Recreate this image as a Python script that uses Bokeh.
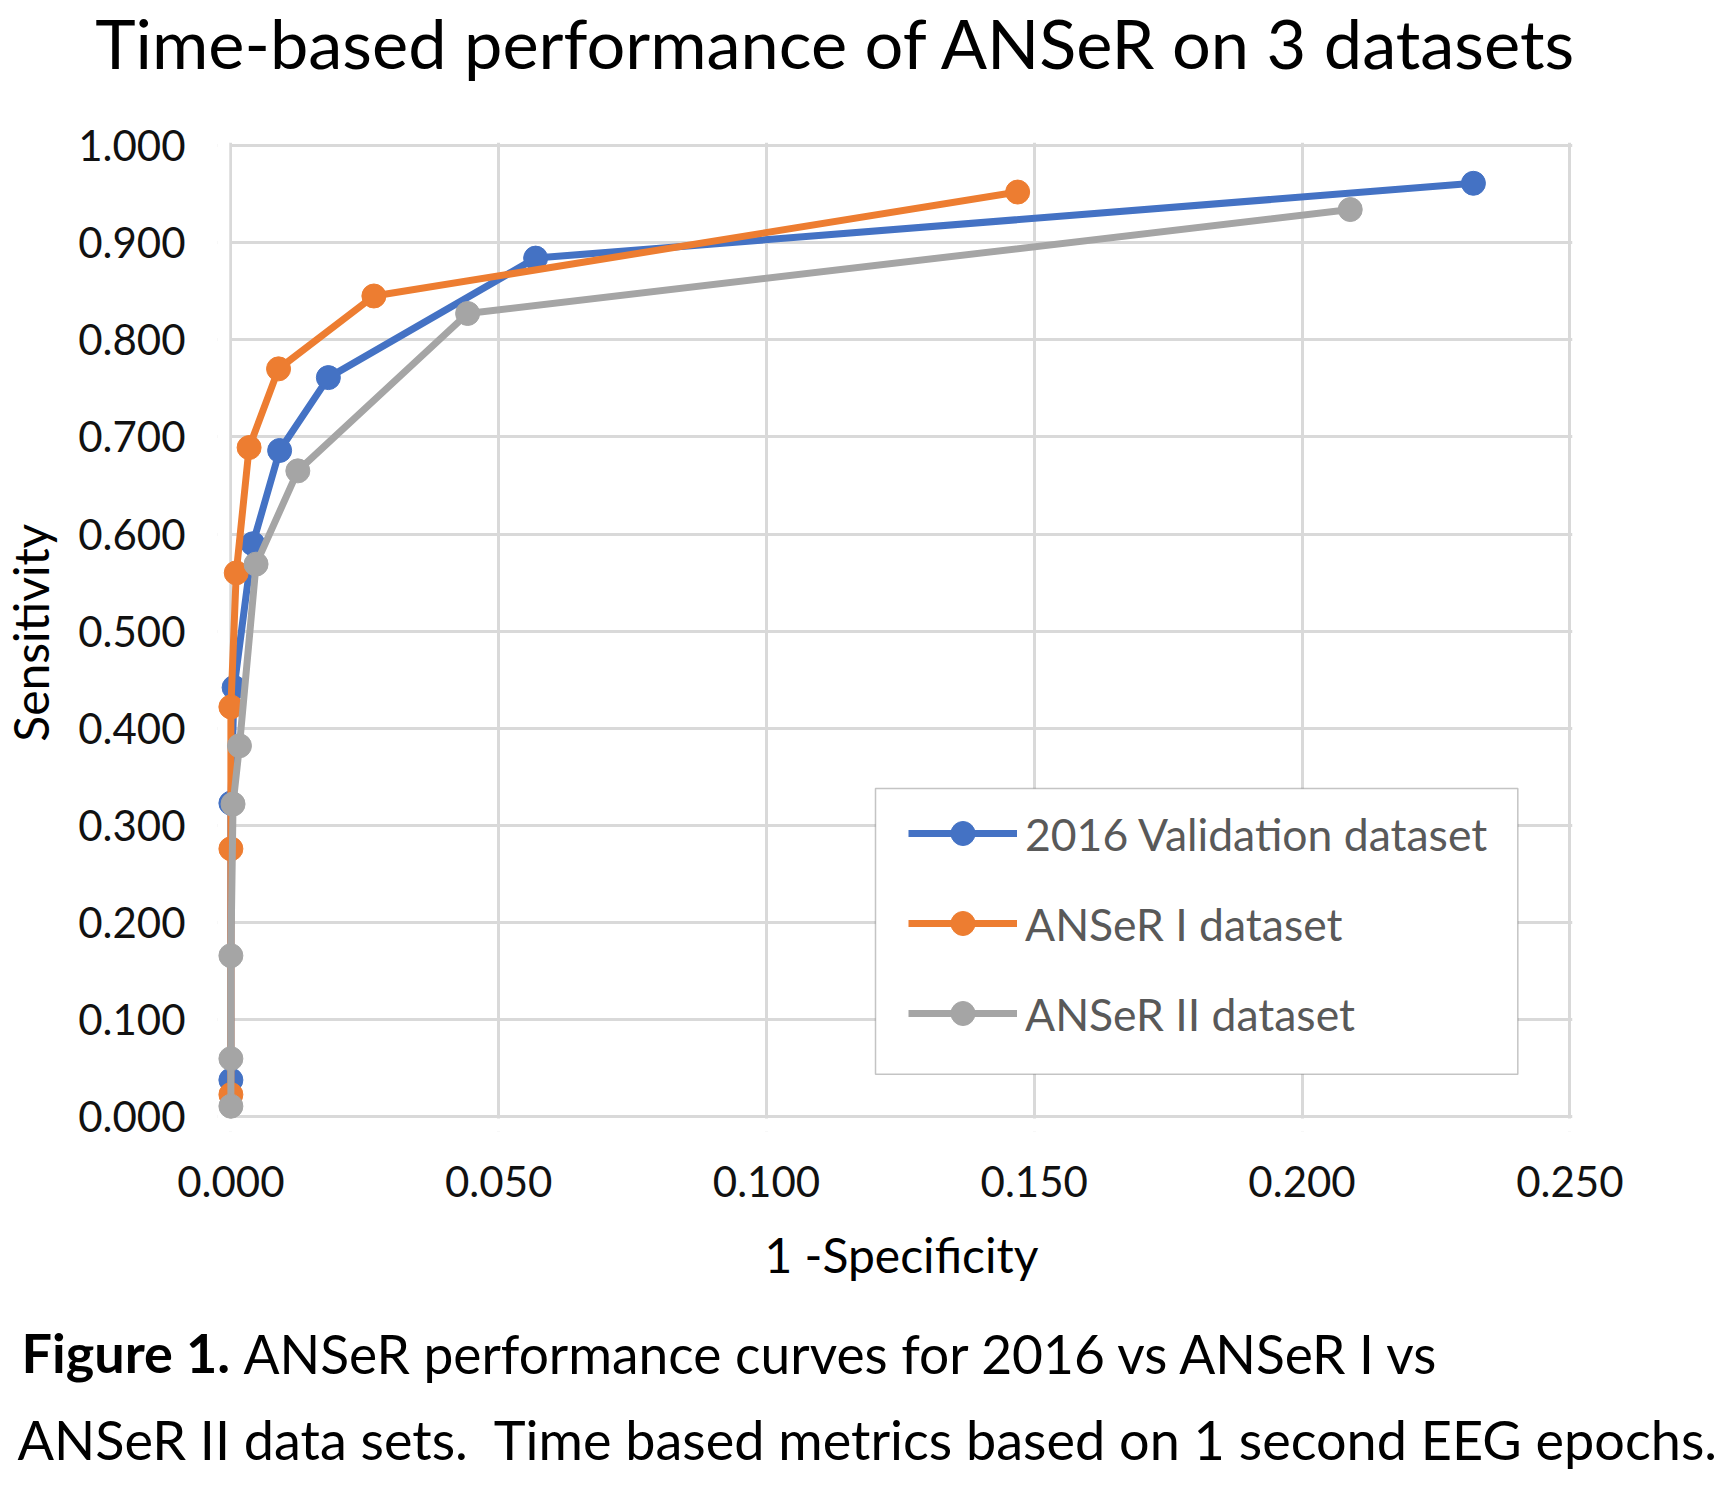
import math
from bokeh.plotting import figure
from bokeh.layouts import column, row
from bokeh.models import (Range1d, FixedTicker, Legend, LegendItem,
                          BoxAnnotation, Label)
from bokeh.embed import file_html
from bokeh.resources import INLINE

# ---------------- data ----------------
series_names = ["2016 Validation dataset", "ANSeR I dataset", "ANSeR II dataset"]

val2016_x = [0.0, 0.0, 0.0006, 0.0041, 0.0091, 0.0182, 0.0569, 0.2320]
val2016_y = [0.038, 0.323, 0.442, 0.590, 0.686, 0.761, 0.884, 0.961]

anser1_x = [0.0, 0.0, 0.0, 0.0010, 0.0034, 0.0089, 0.0267, 0.1469]
anser1_y = [0.023, 0.276, 0.422, 0.560, 0.689, 0.770, 0.845, 0.952]

anser2_x = [0.0, 0.0, 0.0, 0.0004, 0.0016, 0.0047, 0.0125, 0.0442, 0.2090]
anser2_y = [0.011, 0.060, 0.166, 0.322, 0.382, 0.569, 0.665, 0.827, 0.934]

x_ticks = [0.0, 0.05, 0.10, 0.15, 0.20, 0.25]
x_tick_labels = ["0.000", "0.050", "0.100", "0.150", "0.200", "0.250"]
y_ticks = [0.0, 0.1, 0.2, 0.3, 0.4, 0.5, 0.6, 0.7, 0.8, 0.9, 1.0]
y_tick_labels = ["0.000", "0.100", "0.200", "0.300", "0.400", "0.500",
                 "0.600", "0.700", "0.800", "0.900", "1.000"]

title_text = "Time-based performance of ANSeR on 3 datasets"
x_title = "1 -Specificity"
y_title = "Sensitivity"
caption_bold = "Figure 1."
caption_line1 = "ANSeR performance curves for 2016 vs ANSeR I vs"
caption_line2 = "ANSeR II data sets.\u00a0 Time based metrics based on 1 second EEG epochs."

colors = ["#4472C4", "#ED7D31", "#A5A5A5"]
FONT = "Lato"
W = 1724
LEFT_W = 60
MAIN_H = 1100


def text_panel(w, h):
    """A figure whose frame is the whole canvas, in pixel-like units (y downwards)."""
    f = figure(width=w, height=h, x_range=Range1d(0, w), y_range=Range1d(h, 0),
               output_backend="svg", toolbar_location=None,
               x_axis_location=None, y_axis_location=None,
               min_border=0, min_border_left=0, min_border_right=0,
               min_border_top=0, min_border_bottom=0, frame_align=False)
    f.title = None
    f.grid.visible = False
    f.outline_line_color = None
    f.background_fill_color = "white"
    f.border_fill_color = "white"
    return f


# ---------------- title panel ----------------
top = text_panel(W, 120)
top.add_layout(Label(x=836, y=41.5, text=title_text,
                     text_font=FONT, text_font_size="68.5px", text_color="#000000",
                     text_align="center", text_baseline="alphabetic"))

# ---------------- y title panel ----------------
leftp = text_panel(LEFT_W, MAIN_H)
leftp.add_layout(Label(x=29.5, y=512.2, text=y_title, angle=math.pi / 2,
                       text_font=FONT, text_font_size="48px", text_color="#000000",
                       text_align="center", text_baseline="alphabetic"))

# ---------------- main chart ----------------
p = figure(width=W - LEFT_W, height=MAIN_H,
           x_range=Range1d(-0.0025, 0.2505), y_range=Range1d(-0.015, 1.003),
           output_backend="svg", toolbar_location=None,
           min_border_left=217 - LEFT_W, min_border_right=152,
           min_border_top=22, min_border_bottom=89, frame_align=False)
p.title = None
p.outline_line_color = None
p.background_fill_color = "white"
p.border_fill_color = "white"

p.xaxis.ticker = FixedTicker(ticks=x_ticks)
p.yaxis.ticker = FixedTicker(ticks=y_ticks)
p.xaxis.major_label_overrides = dict(zip(x_ticks, x_tick_labels))
p.yaxis.major_label_overrides = dict(zip(y_ticks, y_tick_labels))
for ax in (p.xaxis, p.yaxis):
    ax.axis_line_color = None
    ax.major_tick_line_color = None
    ax.minor_tick_line_color = None
    ax.major_tick_out = 0
    ax.major_label_text_font = FONT
    ax.major_label_text_font_size = "42px"
    ax.major_label_text_color = "#111111"
p.yaxis.major_label_standoff = 32
p.xaxis.major_label_standoff = 34

p.xgrid.grid_line_color = "#D9D9D9"
p.ygrid.grid_line_color = "#D9D9D9"
p.xgrid.grid_line_width = 3
p.ygrid.grid_line_width = 3

# mask grid stubs outside the x=0 / y=0 axes
p.add_layout(BoxAnnotation(right=-0.0003, fill_color="white", fill_alpha=1,
                           line_alpha=0, level="underlay"))
p.add_layout(BoxAnnotation(top=-0.0016, fill_color="white", fill_alpha=1,
                           line_alpha=0, level="underlay"))

items = []
for name, xs, ys, c in zip(series_names,
                           [val2016_x, anser1_x, anser2_x],
                           [val2016_y, anser1_y, anser2_y], colors):
    ln = p.line(xs, ys, line_color=c, line_width=7, line_join="round")
    sc = p.scatter(xs, ys, size=24, fill_color=c, line_color=c)
    items.append(LegendItem(label=name, renderers=[ln, sc]))

# legend frame
p.add_layout(BoxAnnotation(left=0.12036, right=0.24029, top=0.33810, bottom=0.04392,
                           fill_color="white", fill_alpha=1,
                           line_color="#3a3a3a", line_width=1.5))

legend = Legend(items=items, location=(691, 88), orientation="vertical",
                glyph_width=109, glyph_height=60, label_height=60,
                spacing=30, padding=0, margin=0, label_standoff=8,
                border_line_alpha=0, background_fill_alpha=0,
                label_text_font=FONT, label_text_font_size="44.5px",
                label_text_color="#595959")
p.add_layout(legend)

# ---------------- x title + caption panel ----------------
bot = text_panel(W, 269)
bot.add_layout(Label(x=901, y=34, text=x_title,
                     text_font=FONT, text_font_size="48px", text_color="#000000",
                     text_align="center", text_baseline="alphabetic"))
bot.add_layout(Label(x=21, y=132.3, text=caption_bold,
                     text_font=FONT, text_font_size="54px", text_font_style="bold",
                     text_color="#000000", text_align="left", text_baseline="alphabetic"))
bot.add_layout(Label(x=243, y=132.5, text=caption_line1,
                     text_font=FONT, text_font_size="53.3px",
                     text_color="#000000", text_align="left", text_baseline="alphabetic"))
bot.add_layout(Label(x=17, y=219, text=caption_line2,
                     text_font=FONT, text_font_size="54px",
                     text_color="#000000", text_align="left", text_baseline="alphabetic"))

layout = column(top, row(leftp, p, spacing=0), bot, spacing=0)
open("out.html", "w").write(file_html(layout, INLINE))
